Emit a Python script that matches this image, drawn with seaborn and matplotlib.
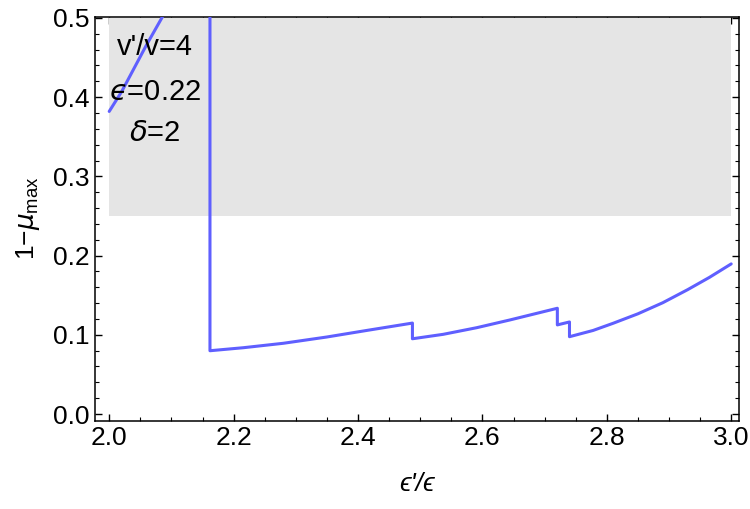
import matplotlib
matplotlib.use("Agg")
import matplotlib.pyplot as plt
from matplotlib.ticker import MultipleLocator, FormatStrFormatter
import seaborn as sns
import pandas as pd

# ---- data ----
branch1_x = [2.0, 2.02, 2.039, 2.06, 2.086, 2.093]
branch1_y = [0.382, 0.407, 0.435, 0.466, 0.502, 0.512]

main_x = [2.162, 2.162, 2.2157, 2.280, 2.3497, 2.414, 2.4875, 2.4875, 2.537, 2.591,
          2.644, 2.7205, 2.7205, 2.740, 2.740, 2.778, 2.81, 2.85, 2.89, 2.93, 2.965, 3.0]
main_y = [0.52, 0.0799, 0.0837, 0.0893, 0.0972, 0.1055, 0.1148, 0.0950, 0.1006, 0.109,
          0.1187, 0.1335, 0.1125, 0.1162, 0.0976, 0.1055, 0.1145, 0.1265, 0.1405, 0.1570,
          0.1725, 0.1895]

band_x = [2.0, 3.0]
band_lo = [0.25, 0.25]
band_hi = [0.5, 0.5]

x_range = [1.9772, 3.0125]
y_range = [-0.0083, 0.5016]
annotations = ["v'/v=4", "$\u03f5$=0.22", r"$\delta$=2"]
xlabel = "\u03f5'/\u03f5"
ylabel = r"1$-\mu_{\mathrm{max}}$"

sns.set_style("white")
plt.rcParams["font.family"] = ["Liberation Sans", "DejaVu Sans"]
plt.rcParams["text.color"] = "black"
plt.rcParams["axes.labelcolor"] = "black"
plt.rcParams["xtick.color"] = "black"
plt.rcParams["ytick.color"] = "black"
plt.rcParams["mathtext.fontset"] = "custom"
plt.rcParams["mathtext.rm"] = "Liberation Sans"
plt.rcParams["mathtext.it"] = "DejaVu Sans:italic"
plt.rcParams["mathtext.bf"] = "Liberation Sans:bold"

fig = plt.figure(figsize=(7.5, 5.09), dpi=100)
ax = fig.add_axes([0.1267, 0.1737, 0.8586, 0.7935])

ax.fill_between(band_x, band_lo, band_hi, color="#e5e5e5", linewidth=0, zorder=1)

line_color = "#5f5fff"
df1 = pd.DataFrame({"x": branch1_x, "y": branch1_y})
df2 = pd.DataFrame({"x": main_x, "y": main_y})
sns.lineplot(data=df1, x="x", y="y", ax=ax, sort=False, estimator=None,
             color=line_color, linewidth=2.2, zorder=3)
sns.lineplot(data=df2, x="x", y="y", ax=ax, sort=False, estimator=None,
             color=line_color, linewidth=2.2, zorder=3)

ax.set_xlim(*x_range)
ax.set_ylim(*y_range)

ax.xaxis.set_major_locator(MultipleLocator(0.2))
ax.xaxis.set_minor_locator(MultipleLocator(0.05))
ax.yaxis.set_major_locator(MultipleLocator(0.1))
ax.yaxis.set_minor_locator(MultipleLocator(0.02))
ax.xaxis.set_major_formatter(FormatStrFormatter("%.1f"))
ax.yaxis.set_major_formatter(FormatStrFormatter("%.1f"))

ax.tick_params(which="both", direction="in", top=True, right=True,
               bottom=True, left=True, color="black")
ax.tick_params(which="major", length=5, width=1.0, labelsize=19, pad=4)
ax.tick_params(which="minor", length=2.8, width=0.8)
for s in ax.spines.values():
    s.set_color("black")
    s.set_linewidth(1.1)

ax.set_xlabel(xlabel, fontsize=19, labelpad=16, fontstyle="italic")
ax.set_ylabel(ylabel, fontsize=19, labelpad=8)

ys = [0.4634, 0.4066, 0.3548]
for t, yy in zip(annotations, ys):
    ax.text(2.0736, yy, t, ha="center", va="center", fontsize=21, zorder=4)

fig.savefig("out.png", dpi=100)
